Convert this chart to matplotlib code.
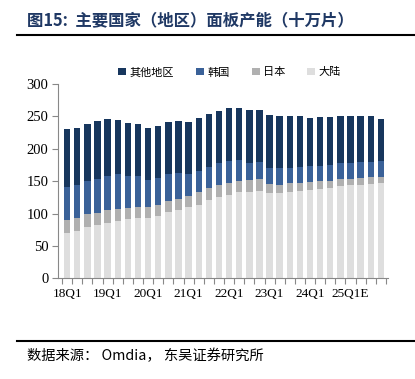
import numpy as np
import matplotlib
matplotlib.use("Agg")
import matplotlib.pyplot as plt

# quarterly capacity, 18Q1 .. 25Q4E (cumulative tops)
quarters = [f"{y}Q{q}" for y in range(18, 26) for q in range(1, 5)]
tick_labels = ["18Q1", "19Q1", "20Q1", "21Q1", "22Q1", "23Q1", "24Q1", "25Q1E"]

china = [70.5, 73.6, 79, 82, 86, 88.5, 91, 93, 93.7, 96.8, 102.4, 105.5, 109.6, 113.7, 120.4, 126,
         129, 132.8, 134, 135, 132, 132, 134, 135, 137, 138, 139.5, 142, 143.6, 144.6, 146, 147]
japan_top = [90, 93.7, 99, 101, 105.5, 107.6, 109, 110.6, 110.6, 113.7, 120, 123, 127, 132.8, 139.5, 144,
             147.7, 150, 152, 153, 145.6, 144.6, 146.7, 147.7, 149, 150, 151, 153, 154, 155, 156, 157]
korea_top = [141.5, 144, 151, 154, 158.5, 160.6, 158, 158, 152, 155.4, 160.6, 163, 161.6, 166, 172.4, 178,
             181.7, 182, 178.6, 180, 171, 171, 171, 172.4, 174, 174, 175.5, 178, 178.6, 179, 179.6, 181.7]
total = [230, 232.6, 239, 243, 245.5, 245, 240, 239, 231.6, 235, 241, 243, 242, 247, 253.7, 258,
         262.5, 263, 260, 260.4, 252, 251, 250, 251, 248, 248.6, 249.6, 250, 250, 250.6, 250, 246.5]

china = np.array(china)
japan = np.array(japan_top) - china
korea = np.array(korea_top) - np.array(japan_top)
other = np.array(total) - np.array(korea_top)

cjk = ["Noto Sans CJK SC", "DejaVu Sans"]
serif = ["Liberation Serif", "DejaVu Serif"]

fig = plt.figure(figsize=(4.15, 3.79), dpi=100)
ax = fig.add_axes([58 / 415, 1 - 278.3 / 379, (388 - 58) / 415, (278.3 - 84) / 379])

x = np.arange(len(quarters))
w = 0.63
ax.bar(x, china, w, color="#DEDEDE", label="大陆")
ax.bar(x, japan, w, bottom=china, color="#B0B0B0", label="日本")
ax.bar(x, korea, w, bottom=china + japan, color="#3A6198", label="韩国")
ax.bar(x, other, w, bottom=china + japan + korea, color="#17365D", label="其他地区")

ax.set_ylim(0, 300)
ax.set_yticks(range(0, 301, 50))
ax.set_xlim(-0.9, len(quarters) - 0.3)
ax.set_xticks(x[::4])
ax.set_xticklabels(tick_labels, fontfamily=serif, fontsize=9.5)
ax.set_xticks(np.arange(-0.5, len(quarters), 1), minor=True)
ax.tick_params(axis="x", which="major", length=0, pad=7)
ax.tick_params(axis="x", which="minor", length=4, color="#888888", width=0.8)
ax.tick_params(axis="y", length=4, color="#888888", width=0.8, pad=3)
for lab in ax.get_yticklabels():
	lab.set_fontfamily(serif)
	lab.set_fontsize(10.5)

for s in ["top", "right"]:
	ax.spines[s].set_visible(False)
ax.spines["left"].set_color("#888888")
ax.spines["bottom"].set_color("#888888")

handles, labels = ax.get_legend_handles_labels()
ax.legend(handles[::-1], labels[::-1], loc="center", bbox_to_anchor=(0.52, 1.06), ncol=4,
	frameon=False, prop={"family": cjk, "size": 8}, handlelength=0.7, handleheight=0.7,
	handletextpad=0.3, columnspacing=2.0)

fig.text(27 / 415, 1 - 20 / 379, "图15:  主要国家（地区）面板产能（十万片）", fontfamily=cjk,
	fontsize=11.8, fontweight="bold", color="#1F3864", va="center")
fig.add_artist(plt.Line2D([17 / 415, 1], [1 - 34.5 / 379] * 2, color="black", lw=1.5))
fig.add_artist(plt.Line2D([17 / 415, 1], [1 - 341 / 379] * 2, color="black", lw=1.5))
fig.text(27 / 415, 1 - 356 / 379, "数据来源： Omdia， 东吴证券研究所", fontfamily=cjk,
	fontsize=10.3, color="black", va="center")

fig.savefig("out.png", dpi=100)
